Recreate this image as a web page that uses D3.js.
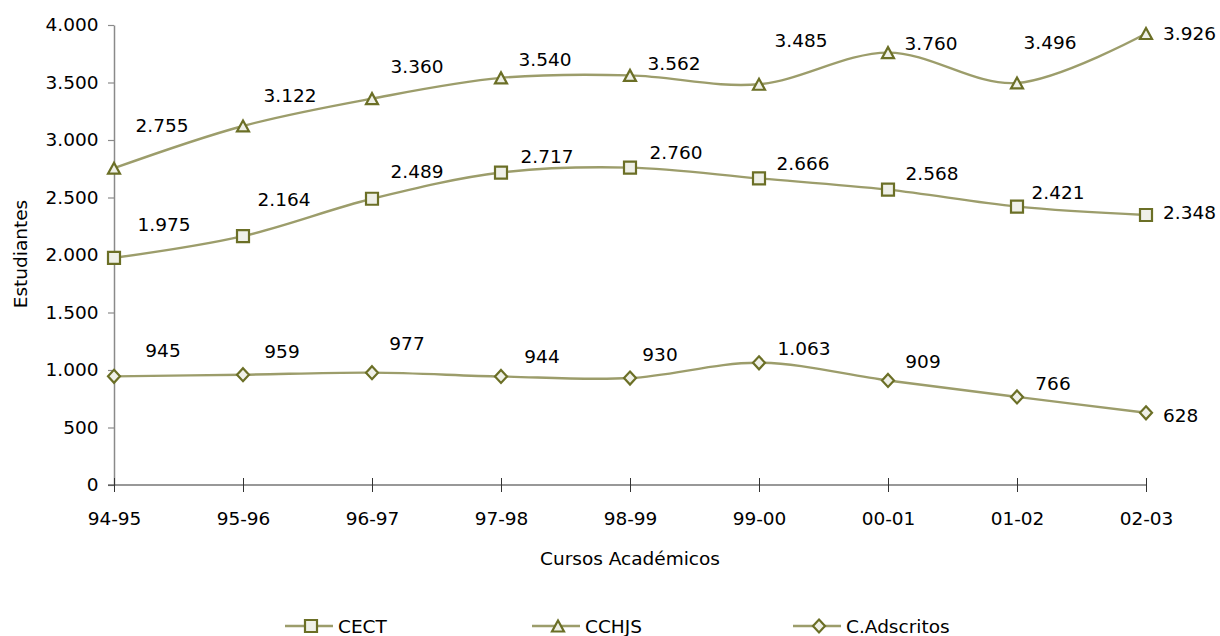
<!DOCTYPE html>
<html><head><meta charset="utf-8">
<script src="https://cdn.jsdelivr.net/npm/d3@7"></script>
<style>
body{margin:0;background:#fff;}
svg text{font-family:"DejaVu Sans",sans-serif;fill:#000;}
</style></head>
<body><svg id="c" width="1220" height="636"></svg>
<script>
const categories = ["94-95","95-96","96-97","97-98","98-99","99-00","00-01","01-02","02-03"];
const seriesNames = ["CECT","CCHJS","C.Adscritos"];
const cect = [1975,2164,2489,2717,2760,2666,2568,2421,2348];
const cchjs = [2755,3122,3360,3540,3562,3485,3760,3496,3926];
const adscritos = [945,959,977,944,930,1063,909,766,628];
const yTicks = [0,500,1000,1500,2000,2500,3000,3500,4000];
// label offsets (dx, dy) relative to each point, in pixels (last one: left edge offset)
const cectLabelOff = [[50,-33],[41,-37],[45,-27],[46,-16],[46,-15],[44,-15],[44,-16],[41,-14],[17,-2]];
const cchjsLabelOff = [[48,-43],[47,-30],[45,-32],[44,-18],[44,-12],[42,-44],[43,-9],[33,-40],[17,0]];
const adsLabelOff = [[49,-26],[39,-23],[35,-29],[41,-20],[30,-24],[45,-14],[35,-19],[36,-13],[17,3]];

const fmt = v => d3.format(",")(v).replace(/,/g,".");
const svg = d3.select("#c");
const x = d3.scalePoint().domain(categories).range([114,1146]);
const y = d3.scaleLinear().domain([0,4000]).range([485,25]);

const lineColor = "#9c9d6b", markColor = "#6b6f26", markFill = "#eff0e8";
const FF = '"DejaVu Sans",sans-serif';

// y axis
const ya = svg.append("g").attr("transform","translate(114,0)")
  .call(d3.axisLeft(y).tickValues(yTicks).tickSize(6).tickSizeOuter(0).tickFormat(fmt));
ya.select(".domain").attr("stroke","#8a8a8a").attr("stroke-width",1.5);
ya.selectAll(".tick line").attr("stroke","#8a8a8a").attr("stroke-width",1.2);
ya.selectAll(".tick text").attr("font-size",18.5).attr("x",-15.5).style("font-family",FF).attr("fill","#000");

// x axis
const xa = svg.append("g").attr("transform","translate(0,485)")
  .call(d3.axisBottom(x).tickSize(7).tickSizeOuter(0));
xa.select(".domain").attr("stroke","#333").attr("stroke-width",1.2).attr("d","M108,0H1146");
xa.selectAll(".tick line").attr("stroke","#333").attr("y1",-7);
xa.selectAll(".tick text").attr("font-size",18.5).attr("y",33).attr("dy",null).attr("dominant-baseline","central").style("font-family",FF).attr("fill","#000");

svg.append("text").attr("x",630).attr("y",558).attr("text-anchor","middle").attr("dominant-baseline","central").attr("font-size",18.5).text("Cursos Académicos");
svg.append("text").attr("transform","translate(20,254) rotate(-90)").attr("text-anchor","middle").attr("dominant-baseline","central").attr("font-size",18.5).text("Estudiantes");

const sym = {
  square: "M-6,-6H6V6H-6Z",
  triangle: "M0,-5.5L6,5.5H-6Z",
  diamond: "M0,-6.5L6,0L0,6.5L-6,0Z"
};
const series = [
  {name:seriesNames[0], vals:cect, shape:"square", off:cectLabelOff},
  {name:seriesNames[1], vals:cchjs, shape:"triangle", off:cchjsLabelOff},
  {name:seriesNames[2], vals:adscritos, shape:"diamond", off:adsLabelOff}
];
const line = d3.line().x((d,i)=>x(categories[i])).y(d=>y(d)).curve(d3.curveCardinal.tension(0));

series.forEach(s=>{
  svg.append("path").attr("d",line(s.vals)).attr("fill","none").attr("stroke",lineColor).attr("stroke-width",2.4);
});
series.forEach(s=>{
  svg.selectAll(null).data(s.vals).enter().append("path")
    .attr("d",sym[s.shape]).attr("transform",(d,i)=>`translate(${x(categories[i])},${y(d)})`)
    .attr("fill",markFill).attr("stroke",markColor).attr("stroke-width",2.2);
  const last = s.vals.length-1;
  svg.selectAll(null).data(s.vals).enter().append("text")
    .attr("x",(d,i)=>x(categories[i])+s.off[i][0]).attr("y",(d,i)=>y(d)+s.off[i][1])
    .attr("text-anchor",(d,i)=>i===last?"start":"middle")
    .attr("dominant-baseline","central").attr("font-size",18.5).text(d=>fmt(d));
});

// legend
const legX = [285,532,793];
series.forEach((s,i)=>{
  const g = svg.append("g").attr("transform",`translate(${legX[i]},626)`);
  g.append("line").attr("x1",0).attr("x2",48).attr("stroke",lineColor).attr("stroke-width",2.4);
  g.append("path").attr("d",sym[s.shape]).attr("transform","translate(26,0)").attr("fill",markFill).attr("stroke",markColor).attr("stroke-width",2.2);
  g.append("text").attr("x",53).attr("dominant-baseline","central").attr("font-size",18.5).text(s.name);
});
</script></body></html>
